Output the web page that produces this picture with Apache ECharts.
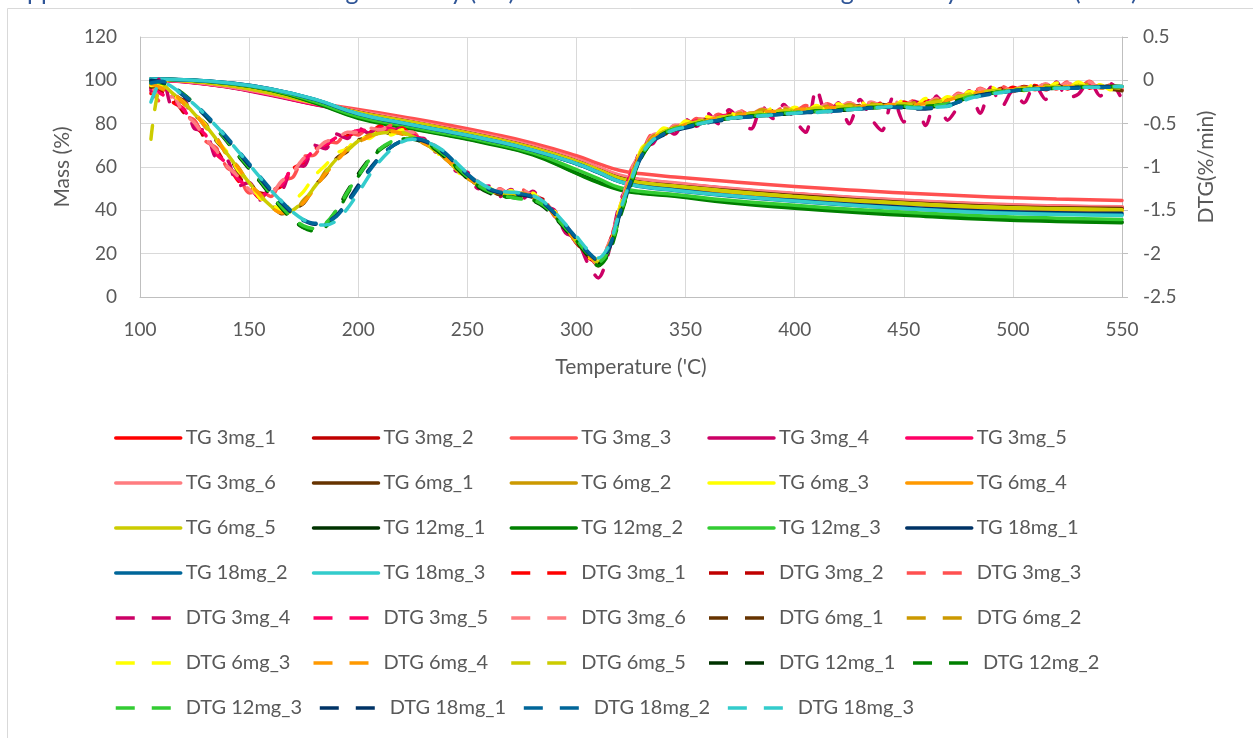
<!DOCTYPE html>
<html>
<head>
<meta charset="utf-8">
<title>TG / DTG curves</title>
<script src="https://cdn.jsdelivr.net/npm/echarts@6/dist/echarts.min.js"></script>
<style>
  html, body { margin: 0; padding: 0; background: #ffffff; }
  #chart { width: 1253px; height: 738px; }
</style>
</head>
<body>
<div id="chart"></div>
<script>
// ---- Sample names (legend order) ----
const SAMPLES = ['3mg_1', '3mg_2', '3mg_3', '3mg_4', '3mg_5', '3mg_6',
  '6mg_1', '6mg_2', '6mg_3', '6mg_4', '6mg_5',
  '12mg_1', '12mg_2', '12mg_3', '18mg_1', '18mg_2', '18mg_3'];

// ---- Axis ticks ----
const TEMP_TICKS = [100, 150, 200, 250, 300, 350, 400, 450, 500, 550];
const MASS_TICKS = [0, 20, 40, 60, 80, 100, 120];
const DTG_TICKS = [-2.5, -2, -1.5, -1, -0.5, 0, 0.5];

// ---- TG: mass (%) vs temperature ('C) ----
const TG_TEMP = [105, 120, 140, 160, 180, 200, 220, 240, 260, 280, 300, 310, 320, 330, 345, 370, 400, 430, 460, 490, 520, 550];
const TG_3MG_1 = [100.2, 99.5, 97.0, 93.3, 89.0, 85.4, 81.8, 78.0, 74.0, 69.3, 63.3, 59.5, 55.9, 54.0, 52.4, 50.0, 47.6, 45.6, 44.0, 42.7, 41.9, 41.5];
const TG_3MG_2 = [100.2, 99.6, 97.2, 93.5, 89.3, 85.6, 82.0, 78.2, 74.2, 69.5, 63.5, 59.7, 55.8, 53.8, 52.2, 49.8, 47.4, 45.4, 43.8, 42.5, 41.7, 41.2];
const TG_3MG_3 = [100.3, 99.6, 97.3, 93.8, 89.8, 86.6, 83.2, 79.6, 75.6, 71.0, 65.2, 61.6, 58.4, 56.9, 55.4, 53.3, 51.0, 49.1, 47.5, 46.2, 45.2, 44.5];
const TG_3MG_4 = [100.1, 99.4, 96.9, 93.1, 88.8, 85.1, 81.5, 77.7, 73.7, 69.0, 63.0, 59.2, 55.5, 53.6, 52.0, 49.6, 47.2, 45.2, 43.6, 42.3, 41.5, 41.0];
const TG_3MG_5 = [100.2, 99.5, 97.1, 93.4, 89.1, 85.5, 81.9, 78.1, 74.1, 69.4, 63.4, 59.6, 55.8, 53.9, 52.3, 49.9, 47.5, 45.5, 43.9, 42.6, 41.8, 41.3];
const TG_3MG_6 = [100.3, 99.6, 97.2, 93.6, 89.4, 85.8, 82.2, 78.4, 74.4, 69.7, 63.7, 59.9, 56.2, 54.3, 52.7, 50.2, 47.8, 45.8, 44.2, 42.9, 42.0, 41.6];
const TG_6MG_1 = [100.4, 99.9, 97.8, 94.3, 89.9, 85.3, 81.6, 77.8, 73.7, 68.9, 62.7, 58.8, 54.9, 52.9, 51.4, 49.1, 46.8, 44.8, 43.2, 41.9, 41.2, 40.8];
const TG_6MG_2 = [100.4, 99.9, 97.8, 94.2, 89.8, 85.1, 81.5, 77.7, 73.6, 68.8, 62.6, 58.7, 54.7, 52.7, 51.2, 48.8, 46.4, 44.4, 42.8, 41.5, 40.8, 40.3];
const TG_6MG_3 = [100.4, 99.9, 97.8, 94.2, 89.7, 85.0, 81.4, 77.6, 73.5, 68.7, 62.5, 58.6, 54.5, 52.6, 51.0, 48.6, 46.2, 44.2, 42.6, 41.3, 40.5, 40.0];
const TG_6MG_4 = [100.4, 99.9, 97.9, 94.3, 89.8, 85.0, 81.3, 77.5, 73.4, 68.6, 62.4, 58.5, 54.3, 52.4, 50.8, 48.4, 46.0, 44.0, 42.4, 41.1, 40.2, 39.7];
const TG_6MG_5 = [100.4, 99.9, 97.8, 94.2, 89.7, 85.1, 81.4, 77.6, 73.5, 68.7, 62.5, 58.6, 54.6, 52.6, 51.1, 48.7, 46.3, 44.3, 42.7, 41.4, 40.7, 40.2];
const TG_12MG_1 = [100.6, 100.2, 98.6, 95.5, 89.8, 82.8, 78.7, 75.0, 70.9, 65.9, 57.3, 53.1, 49.7, 48.1, 46.8, 44.0, 41.5, 39.3, 37.6, 36.2, 35.2, 34.6];
const TG_12MG_2 = [100.6, 100.2, 98.6, 95.4, 89.6, 82.5, 78.4, 74.7, 70.6, 65.6, 57.0, 52.8, 49.4, 47.8, 46.5, 43.5, 41.0, 38.9, 37.2, 35.8, 34.9, 34.3];
const TG_12MG_3 = [100.6, 100.2, 98.7, 95.6, 90.2, 83.3, 79.2, 75.4, 71.4, 66.5, 58.8, 54.6, 50.4, 48.7, 47.3, 44.6, 42.3, 40.3, 38.6, 37.3, 36.4, 35.8];
const TG_18MG_1 = [100.6, 100.3, 98.9, 96.0, 91.2, 84.4, 80.3, 76.5, 72.5, 67.7, 61.5, 57.5, 53.2, 51.1, 49.5, 46.9, 44.6, 42.6, 40.9, 39.6, 38.9, 38.6];
const TG_18MG_2 = [100.6, 100.3, 98.9, 96.0, 91.2, 84.5, 80.3, 76.5, 72.5, 67.7, 61.5, 57.4, 53.1, 50.9, 49.2, 46.6, 44.2, 42.1, 40.4, 39.0, 38.3, 38.0];
const TG_18MG_3 = [100.6, 100.3, 98.9, 96.0, 91.3, 84.6, 80.4, 76.6, 72.6, 67.8, 61.6, 57.6, 53.2, 51.0, 49.3, 46.8, 44.3, 42.1, 40.3, 38.9, 38.1, 37.6];

// ---- DTG: rate of mass change (%/min) vs temperature ('C) ----
const DTG_TEMP = [105, 110, 115, 120, 125, 130, 135, 140, 145, 150,
  155, 160, 165, 170, 175, 180, 185, 190, 195, 200,
  205, 210, 215, 220, 225, 230, 235, 240, 245, 250,
  255, 260, 265, 270, 275, 280, 285, 290, 295, 300,
  305, 310, 315, 320, 325, 330, 335, 340, 345, 350,
  355, 360, 365, 370, 375, 380, 385, 390, 395, 400,
  405, 410, 415, 420, 425, 430, 435, 440, 445, 450,
  455, 460, 465, 470, 475, 480, 485, 490, 495, 500,
  505, 510, 515, 520, 525, 530, 535, 540, 545, 550];

const DTG_3MG_1 = [-0.15, -0.10, -0.25, -0.33, -0.53, -0.64, -0.85, -0.96, -1.16, -1.22,
  -1.36, -1.27, -1.22, -1.02, -0.95, -0.79, -0.76, -0.65, -0.65, -0.57,
  -0.60, -0.53, -0.58, -0.55, -0.65, -0.68, -0.80, -0.86, -1.02, -1.08,
  -1.22, -1.24, -1.31, -1.28, -1.33, -1.30, -1.42, -1.52, -1.72, -1.84,
  -2.04, -2.10, -1.92, -1.44, -1.10, -0.78, -0.68, -0.57, -0.58, -0.49,
  -0.48, -0.44, -0.43, -0.38, -0.41, -0.35, -0.39, -0.33, -0.37, -0.32,
  -0.35, -0.30, -0.34, -0.28, -0.33, -0.27, -0.31, -0.26, -0.30, -0.25,
  -0.29, -0.23, -0.26, -0.20, -0.21, -0.14, -0.16, -0.10, -0.14, -0.08,
  -0.12, -0.06, -0.11, -0.05, -0.10, -0.04, -0.09, -0.06, -0.10, -0.11];
const DTG_3MG_2 = [-0.05, -0.14, -0.20, -0.37, -0.47, -0.68, -0.80, -1.00, -1.10, -1.27,
  -1.30, -1.32, -1.18, -1.09, -0.91, -0.84, -0.72, -0.70, -0.61, -0.62,
  -0.56, -0.58, -0.54, -0.60, -0.61, -0.72, -0.76, -0.90, -0.98, -1.12,
  -1.18, -1.28, -1.27, -1.32, -1.28, -1.34, -1.38, -1.56, -1.68, -1.88,
  -2.00, -2.14, -1.88, -1.48, -1.06, -0.82, -0.64, -0.62, -0.54, -0.53,
  -0.46, -0.47, -0.41, -0.43, -0.37, -0.40, -0.35, -0.37, -0.34, -0.35,
  -0.31, -0.34, -0.29, -0.32, -0.28, -0.31, -0.27, -0.30, -0.26, -0.28,
  -0.25, -0.27, -0.22, -0.24, -0.17, -0.18, -0.11, -0.14, -0.09, -0.12,
  -0.07, -0.10, -0.05, -0.09, -0.04, -0.08, -0.03, -0.09, -0.06, -0.10];
const DTG_3MG_3 = [-0.10, -0.26, -0.18, -0.40, -0.46, -0.70, -0.78, -1.01, -1.08, -1.30,
  -1.28, -1.34, -1.15, -1.12, -0.88, -0.86, -0.70, -0.72, -0.59, -0.63,
  -0.54, -0.59, -0.52, -0.61, -0.60, -0.73, -0.75, -0.91, -0.97, -1.13,
  -1.17, -1.29, -1.25, -1.34, -1.26, -1.35, -1.37, -1.57, -1.66, -1.89,
  -1.98, -2.15, -1.86, -1.50, -1.03, -0.84, -0.62, -0.63, -0.52, -0.54,
  -0.44, -0.48, -0.39, -0.44, -0.35, -0.41, -0.33, -0.38, -0.31, -0.36,
  -0.29, -0.35, -0.27, -0.33, -0.26, -0.32, -0.25, -0.31, -0.24, -0.29,
  -0.23, -0.28, -0.20, -0.25, -0.15, -0.19, -0.09, -0.15, -0.07, -0.13,
  -0.05, -0.11, -0.03, -0.10, -0.02, -0.09, -0.01, -0.10, -0.05, -0.11];
const DTG_3MG_4 = [-0.12, 0.04, -0.31, -0.22, -0.56, -0.58, -0.90, -0.92, -1.22, -1.18,
  -1.38, -1.24, -1.25, -0.98, -0.99, -0.75, -0.79, -0.62, -0.67, -0.55,
  -0.61, -0.52, -0.59, -0.55, -0.66, -0.67, -0.82, -0.85, -1.05, -1.06,
  -1.25, -1.22, -1.34, -1.26, -1.37, -1.28, -1.45, -1.50, -1.76, -1.82,
  -2.10, -2.28, -1.96, -1.40, -1.14, -0.76, -0.73, -0.54, -0.62, -0.45,
  -0.53, -0.38, -0.50, -0.34, -0.47, -0.56, -0.30, -0.44, -0.28, -0.46,
  -0.60, -0.10, -0.42, -0.26, -0.50, -0.22, -0.44, -0.58, -0.20, -0.48,
  -0.24, -0.52, -0.18, -0.46, -0.30, -0.12, -0.38, -0.08, -0.30, -0.12,
  -0.26, -0.05, -0.22, -0.02, -0.20, -0.16, 0.00, -0.18, -0.04, -0.22];
const DTG_3MG_5 = [-0.09, -0.16, -0.23, -0.34, -0.51, -0.63, -0.84, -0.97, -1.14, -1.24,
  -1.34, -1.26, -1.20, -1.00, -0.93, -0.80, -0.74, -0.66, -0.63, -0.58,
  -0.58, -0.55, -0.56, -0.57, -0.63, -0.69, -0.78, -0.87, -1.00, -1.09,
  -1.20, -1.25, -1.30, -1.29, -1.31, -1.31, -1.41, -1.53, -1.70, -1.85,
  -2.03, -2.12, -1.90, -1.46, -1.08, -0.80, -0.66, -0.59, -0.56, -0.51,
  -0.47, -0.46, -0.42, -0.40, -0.39, -0.38, -0.36, -0.36, -0.35, -0.34,
  -0.33, -0.32, -0.32, -0.30, -0.30, -0.29, -0.28, -0.28, -0.27, -0.27,
  -0.27, -0.25, -0.24, -0.21, -0.18, -0.15, -0.13, -0.12, -0.11, -0.10,
  -0.09, -0.09, -0.08, -0.07, -0.06, -0.06, -0.06, -0.07, -0.08, -0.09];
const DTG_3MG_6 = [-0.03, -0.22, -0.19, -0.38, -0.49, -0.67, -0.81, -0.99, -1.11, -1.26,
  -1.31, -1.30, -1.16, -1.06, -0.90, -0.82, -0.71, -0.68, -0.60, -0.60,
  -0.55, -0.57, -0.53, -0.59, -0.60, -0.71, -0.75, -0.89, -0.97, -1.11,
  -1.17, -1.27, -1.26, -1.32, -1.27, -1.33, -1.37, -1.55, -1.67, -1.87,
  -1.99, -2.13, -1.87, -1.47, -1.04, -0.81, -0.63, -0.60, -0.52, -0.51,
  -0.44, -0.45, -0.40, -0.42, -0.36, -0.39, -0.33, -0.36, -0.31, -0.34,
  -0.29, -0.33, -0.27, -0.31, -0.26, -0.30, -0.25, -0.29, -0.24, -0.28,
  -0.23, -0.27, -0.21, -0.24, -0.16, -0.18, -0.10, -0.14, -0.08, -0.12,
  -0.06, -0.10, -0.04, -0.09, -0.03, -0.08, -0.02, -0.09, -0.05, -0.10];
const DTG_6MG_1 = [-0.08, -0.05, -0.16, -0.24, -0.40, -0.50, -0.70, -0.84, -1.05, -1.16,
  -1.35, -1.43, -1.54, -1.48, -1.42, -1.22, -1.09, -0.90, -0.82, -0.69,
  -0.66, -0.60, -0.61, -0.60, -0.66, -0.71, -0.82, -0.89, -1.04, -1.11,
  -1.22, -1.26, -1.32, -1.29, -1.33, -1.32, -1.43, -1.53, -1.72, -1.85,
  -2.02, -2.09, -1.93, -1.48, -1.13, -0.80, -0.68, -0.58, -0.56, -0.50,
  -0.49, -0.45, -0.44, -0.40, -0.41, -0.37, -0.38, -0.35, -0.37, -0.34,
  -0.35, -0.32, -0.34, -0.30, -0.33, -0.29, -0.31, -0.28, -0.29, -0.27,
  -0.29, -0.25, -0.26, -0.22, -0.20, -0.16, -0.14, -0.11, -0.13, -0.09,
  -0.11, -0.07, -0.10, -0.06, -0.09, -0.05, -0.08, -0.06, -0.10, -0.12];
const DTG_6MG_2 = [-0.03, -0.10, -0.14, -0.27, -0.37, -0.54, -0.66, -0.87, -1.00, -1.20,
  -1.31, -1.47, -1.50, -1.52, -1.38, -1.26, -1.05, -0.93, -0.78, -0.72,
  -0.63, -0.62, -0.58, -0.62, -0.64, -0.73, -0.79, -0.91, -1.01, -1.13,
  -1.20, -1.28, -1.29, -1.33, -1.30, -1.35, -1.40, -1.56, -1.68, -1.88,
  -1.98, -2.12, -1.90, -1.52, -1.10, -0.84, -0.65, -0.61, -0.54, -0.52,
  -0.46, -0.47, -0.41, -0.42, -0.38, -0.39, -0.34, -0.37, -0.33, -0.35,
  -0.31, -0.34, -0.30, -0.32, -0.28, -0.31, -0.27, -0.30, -0.26, -0.29,
  -0.26, -0.28, -0.23, -0.24, -0.18, -0.18, -0.12, -0.14, -0.10, -0.12,
  -0.08, -0.10, -0.06, -0.09, -0.05, -0.08, -0.04, -0.09, -0.07, -0.10];
const DTG_6MG_3 = [-0.06, -0.06, -0.17, -0.25, -0.39, -0.51, -0.69, -0.83, -1.04, -1.17,
  -1.36, -1.42, -1.50, -1.40, -1.28, -1.10, -0.98, -0.84, -0.79, -0.66,
  -0.67, -0.58, -0.63, -0.57, -0.68, -0.69, -0.84, -0.87, -1.06, -1.09,
  -1.24, -1.24, -1.35, -1.27, -1.36, -1.30, -1.46, -1.51, -1.74, -1.83,
  -2.04, -2.06, -1.95, -1.45, -1.15, -0.78, -0.69, -0.55, -0.58, -0.47,
  -0.50, -0.42, -0.46, -0.37, -0.43, -0.34, -0.40, -0.32, -0.38, -0.31,
  -0.36, -0.29, -0.35, -0.27, -0.33, -0.25, -0.32, -0.24, -0.30, -0.23,
  -0.30, -0.21, -0.27, -0.19, -0.22, -0.13, -0.16, -0.08, -0.14, -0.06,
  -0.12, -0.04, -0.10, -0.03, -0.09, -0.02, -0.08, -0.05, -0.11, -0.07];
const DTG_6MG_4 = [-0.04, -0.09, -0.15, -0.26, -0.38, -0.53, -0.67, -0.86, -1.01, -1.19,
  -1.32, -1.46, -1.53, -1.51, -1.41, -1.25, -1.08, -0.94, -0.80, -0.72,
  -0.65, -0.61, -0.59, -0.61, -0.65, -0.72, -0.80, -0.90, -1.02, -1.12,
  -1.21, -1.27, -1.30, -1.32, -1.31, -1.34, -1.41, -1.55, -1.70, -1.86,
  -2.00, -2.11, -1.92, -1.50, -1.12, -0.82, -0.67, -0.60, -0.56, -0.51,
  -0.48, -0.46, -0.43, -0.41, -0.40, -0.38, -0.36, -0.36, -0.35, -0.34,
  -0.33, -0.33, -0.32, -0.31, -0.31, -0.30, -0.29, -0.29, -0.28, -0.28,
  -0.28, -0.27, -0.25, -0.23, -0.19, -0.17, -0.14, -0.13, -0.12, -0.11,
  -0.10, -0.09, -0.08, -0.08, -0.07, -0.07, -0.07, -0.07, -0.08, -0.09];
const DTG_6MG_5 = [-0.68, -0.04, -0.15, -0.25, -0.39, -0.52, -0.68, -0.85, -1.02, -1.18,
  -1.33, -1.45, -1.55, -1.50, -1.39, -1.23, -1.06, -0.91, -0.81, -0.70,
  -0.64, -0.61, -0.60, -0.60, -0.65, -0.71, -0.81, -0.89, -1.03, -1.12,
  -1.21, -1.27, -1.31, -1.31, -1.32, -1.33, -1.42, -1.54, -1.71, -1.86,
  -2.01, -2.10, -1.93, -1.49, -1.12, -0.81, -0.67, -0.59, -0.55, -0.51,
  -0.48, -0.45, -0.43, -0.41, -0.40, -0.38, -0.37, -0.36, -0.35, -0.34,
  -0.34, -0.32, -0.32, -0.31, -0.30, -0.30, -0.29, -0.28, -0.28, -0.27,
  -0.28, -0.26, -0.25, -0.22, -0.19, -0.16, -0.14, -0.12, -0.12, -0.10,
  -0.10, -0.08, -0.08, -0.07, -0.07, -0.06, -0.07, -0.07, -0.08, -0.09];
const DTG_12MG_1 = [-0.02, -0.02, -0.08, -0.17, -0.28, -0.41, -0.56, -0.71, -0.87, -1.02,
  -1.17, -1.33, -1.48, -1.61, -1.70, -1.72, -1.66, -1.50, -1.28, -1.08,
  -0.91, -0.79, -0.72, -0.68, -0.68, -0.72, -0.79, -0.89, -1.01, -1.13,
  -1.23, -1.30, -1.34, -1.35, -1.36, -1.39, -1.46, -1.58, -1.72, -1.86,
  -2.01, -2.12, -1.96, -1.56, -1.18, -0.87, -0.70, -0.62, -0.57, -0.54,
  -0.51, -0.48, -0.46, -0.44, -0.43, -0.42, -0.41, -0.40, -0.39, -0.38,
  -0.37, -0.36, -0.36, -0.35, -0.34, -0.33, -0.32, -0.31, -0.31, -0.31,
  -0.32, -0.31, -0.30, -0.28, -0.24, -0.20, -0.17, -0.15, -0.13, -0.12,
  -0.11, -0.10, -0.10, -0.09, -0.09, -0.08, -0.08, -0.08, -0.07, -0.07];
const DTG_12MG_2 = [-0.01, -0.03, -0.07, -0.16, -0.27, -0.40, -0.55, -0.70, -0.86, -1.01,
  -1.16, -1.32, -1.47, -1.60, -1.70, -1.74, -1.69, -1.54, -1.31, -1.11,
  -0.93, -0.80, -0.72, -0.68, -0.67, -0.71, -0.78, -0.88, -1.00, -1.12,
  -1.22, -1.29, -1.33, -1.35, -1.36, -1.38, -1.45, -1.57, -1.71, -1.85,
  -2.00, -2.14, -1.99, -1.58, -1.20, -0.88, -0.70, -0.61, -0.56, -0.53,
  -0.50, -0.47, -0.46, -0.43, -0.42, -0.41, -0.40, -0.39, -0.38, -0.37,
  -0.37, -0.35, -0.35, -0.34, -0.33, -0.32, -0.31, -0.31, -0.30, -0.30,
  -0.31, -0.30, -0.29, -0.27, -0.23, -0.20, -0.17, -0.15, -0.13, -0.12,
  -0.11, -0.10, -0.09, -0.09, -0.08, -0.08, -0.08, -0.07, -0.07, -0.07];
const DTG_12MG_3 = [-0.03, -0.02, -0.07, -0.17, -0.28, -0.41, -0.55, -0.70, -0.85, -1.00,
  -1.15, -1.31, -1.46, -1.59, -1.68, -1.71, -1.65, -1.50, -1.29, -1.10,
  -0.92, -0.79, -0.71, -0.67, -0.67, -0.70, -0.77, -0.87, -0.99, -1.11,
  -1.21, -1.28, -1.33, -1.35, -1.37, -1.38, -1.44, -1.56, -1.70, -1.84,
  -1.99, -2.10, -1.95, -1.55, -1.17, -0.86, -0.69, -0.61, -0.56, -0.53,
  -0.50, -0.48, -0.45, -0.44, -0.42, -0.41, -0.40, -0.39, -0.38, -0.37,
  -0.36, -0.36, -0.35, -0.34, -0.33, -0.32, -0.32, -0.31, -0.30, -0.30,
  -0.31, -0.30, -0.29, -0.27, -0.23, -0.19, -0.17, -0.15, -0.13, -0.12,
  -0.11, -0.10, -0.10, -0.09, -0.09, -0.08, -0.08, -0.08, -0.07, -0.07];
const DTG_18MG_1 = [0.00, -0.02, -0.08, -0.18, -0.29, -0.41, -0.54, -0.68, -0.83, -0.98,
  -1.13, -1.28, -1.42, -1.54, -1.62, -1.66, -1.64, -1.56, -1.40, -1.21,
  -1.03, -0.88, -0.77, -0.70, -0.68, -0.70, -0.76, -0.85, -0.97, -1.09,
  -1.19, -1.26, -1.30, -1.31, -1.32, -1.35, -1.42, -1.54, -1.68, -1.83,
  -1.98, -2.08, -1.94, -1.54, -1.17, -0.87, -0.70, -0.63, -0.58, -0.55,
  -0.52, -0.49, -0.47, -0.45, -0.43, -0.42, -0.41, -0.40, -0.39, -0.38,
  -0.37, -0.37, -0.36, -0.35, -0.34, -0.33, -0.32, -0.32, -0.31, -0.32,
  -0.33, -0.33, -0.32, -0.30, -0.25, -0.20, -0.17, -0.15, -0.14, -0.12,
  -0.11, -0.10, -0.10, -0.09, -0.09, -0.08, -0.08, -0.07, -0.07, -0.07];
const DTG_18MG_2 = [-0.03, -0.01, -0.07, -0.17, -0.27, -0.39, -0.52, -0.66, -0.81, -0.96,
  -1.11, -1.26, -1.40, -1.52, -1.61, -1.65, -1.64, -1.57, -1.42, -1.24,
  -1.05, -0.89, -0.77, -0.70, -0.67, -0.69, -0.75, -0.84, -0.96, -1.08,
  -1.18, -1.25, -1.29, -1.30, -1.31, -1.34, -1.41, -1.53, -1.67, -1.82,
  -1.97, -2.07, -1.92, -1.52, -1.16, -0.86, -0.70, -0.62, -0.57, -0.54,
  -0.51, -0.48, -0.46, -0.44, -0.43, -0.42, -0.41, -0.40, -0.39, -0.38,
  -0.37, -0.36, -0.36, -0.35, -0.34, -0.33, -0.32, -0.31, -0.31, -0.31,
  -0.32, -0.32, -0.31, -0.29, -0.25, -0.21, -0.18, -0.16, -0.14, -0.12,
  -0.11, -0.10, -0.10, -0.09, -0.09, -0.09, -0.08, -0.08, -0.08, -0.07];
const DTG_18MG_3 = [-0.25, -0.02, -0.08, -0.18, -0.28, -0.40, -0.53, -0.67, -0.82, -0.97,
  -1.12, -1.27, -1.40, -1.52, -1.61, -1.66, -1.67, -1.62, -1.48, -1.30,
  -1.10, -0.93, -0.80, -0.71, -0.68, -0.70, -0.75, -0.83, -0.95, -1.07,
  -1.17, -1.24, -1.28, -1.29, -1.30, -1.33, -1.40, -1.52, -1.66, -1.80,
  -1.95, -2.05, -1.90, -1.50, -1.15, -0.85, -0.69, -0.62, -0.57, -0.54,
  -0.51, -0.48, -0.46, -0.44, -0.43, -0.42, -0.41, -0.40, -0.39, -0.38,
  -0.37, -0.37, -0.36, -0.35, -0.34, -0.33, -0.32, -0.31, -0.30, -0.31,
  -0.32, -0.32, -0.31, -0.30, -0.26, -0.21, -0.18, -0.16, -0.14, -0.12,
  -0.11, -0.10, -0.10, -0.09, -0.09, -0.08, -0.08, -0.08, -0.07, -0.07];

const TG_VALUES = [TG_3MG_1, TG_3MG_2, TG_3MG_3, TG_3MG_4, TG_3MG_5, TG_3MG_6,
  TG_6MG_1, TG_6MG_2, TG_6MG_3, TG_6MG_4, TG_6MG_5,
  TG_12MG_1, TG_12MG_2, TG_12MG_3, TG_18MG_1, TG_18MG_2, TG_18MG_3];
const DTG_VALUES = [DTG_3MG_1, DTG_3MG_2, DTG_3MG_3, DTG_3MG_4, DTG_3MG_5, DTG_3MG_6,
  DTG_6MG_1, DTG_6MG_2, DTG_6MG_3, DTG_6MG_4, DTG_6MG_5,
  DTG_12MG_1, DTG_12MG_2, DTG_12MG_3, DTG_18MG_1, DTG_18MG_2, DTG_18MG_3];

// ---- Styling ----
const COLORS = ['#FF0000', '#C00000', '#FF5050', '#CC0066', '#FF0066', '#FF7C80',
  '#663300', '#CC9900', '#FFFF00', '#FF9900', '#CCCC00',
  '#003300', '#008000', '#33CC33', '#003366', '#006699', '#33CCCC'];
const FONT = 'Lato, "Open Sans", "Noto Sans", sans-serif';
const TEXT_GREY = '#595959';
const GRID_GREY = '#D9D9D9';
const AXIS_GREY = '#BFBFBF';
const LINE_W = 3.5;
const DASH = [14, 16];
const LEGEND_DASH = [19, 17];

const pair = (xs, ys) => xs.map((x, i) => [x, ys[i]]);

const series = [];
SAMPLES.forEach((s, i) => {
  series.push({
    name: 'TG ' + s, type: 'line', yAxisIndex: 0,
    data: pair(TG_TEMP, TG_VALUES[i]),
    smooth: 0.5, symbol: 'none', showSymbol: false,
    lineStyle: { color: COLORS[i], width: LINE_W, cap: 'round', join: 'round' },
    itemStyle: { color: COLORS[i] },
    emphasis: { disabled: true }, z: 2
  });
});
SAMPLES.forEach((s, i) => {
  series.push({
    name: 'DTG ' + s, type: 'line', yAxisIndex: 1,
    data: pair(DTG_TEMP, DTG_VALUES[i]),
    smooth: 0.3, symbol: 'none', showSymbol: false,
    lineStyle: { color: COLORS[i], width: LINE_W, type: DASH, dashOffset: 0, cap: 'round', join: 'round' },
    itemStyle: { color: COLORS[i] },
    emphasis: { disabled: true }, z: 3
  });
});

// legend: 5 entries per row, 7 rows; icon is the line sample only
const legendItems = series.map(o => o.name.indexOf('DTG') === 0
  ? { name: o.name, lineStyle: { type: LEGEND_DASH, dashOffset: 0, width: LINE_W, cap: 'butt' } }
  : { name: o.name });
const ROW_CENTERS = [438, 483, 528, 573, 618, 663, 708];
const legends = ROW_CENTERS.map((cy, r) => ({
  data: legendItems.slice(r * 5, r * 5 + 5),
  left: 114, top: cy - 10, orient: 'horizontal',
  padding: 0, itemWidth: 65, itemHeight: 20, itemGap: 16,
  selectedMode: false,
  itemStyle: { opacity: 0 },
  lineStyle: { width: LINE_W, cap: 'round' },
  textStyle: { fontFamily: FONT, fontSize: 20, color: TEXT_GREY, width: 110, lineHeight: 20 }
}));

const chart = echarts.init(document.getElementById('chart'), null, { renderer: 'canvas' });
chart.setOption({
  animation: false,
  backgroundColor: '#ffffff',
  graphic: [
    { type: 'rect', silent: true, z: -10,
      shape: { x: 7.5, y: 8.5, width: 1300, height: 800 },
      style: { fill: '#ffffff', stroke: GRID_GREY, lineWidth: 1 } },
    { type: 'text', silent: true, x: 10, y: 4,
      style: { text: 'Appendix D. Results of thermogravimetry (TG) curves and derivative thermogravimetry mass loss (DTG)',
        fontFamily: FONT, fontSize: 25, fill: '#2F5597', verticalAlign: 'bottom', align: 'left' } }
  ],
  legend: legends,
  grid: { left: 140, right: 131, top: 37, bottom: 441, containLabel: false },
  xAxis: {
    type: 'value', min: TEMP_TICKS[0], max: TEMP_TICKS[TEMP_TICKS.length - 1], interval: 50,
    name: "Temperature ('C)", nameLocation: 'middle', nameGap: 60,
    nameTextStyle: { fontFamily: FONT, fontSize: 21, color: TEXT_GREY },
    axisLine: { show: true, lineStyle: { color: AXIS_GREY, width: 1 } },
    axisTick: { show: false },
    axisLabel: { fontFamily: FONT, fontSize: 19, color: TEXT_GREY, margin: 23 },
    splitLine: { show: true, lineStyle: { color: GRID_GREY, width: 1 } }
  },
  yAxis: [
    {
      type: 'value', position: 'left', min: MASS_TICKS[0], max: MASS_TICKS[MASS_TICKS.length - 1], interval: 20,
      name: 'Mass (%)', nameLocation: 'middle', nameGap: 66, nameRotate: 90,
      nameTextStyle: { fontFamily: FONT, fontSize: 21, color: TEXT_GREY },
      axisLine: { show: true, lineStyle: { color: AXIS_GREY, width: 1 } },
      axisTick: { show: false },
      axisLabel: { fontFamily: FONT, fontSize: 19, color: TEXT_GREY, margin: 23 },
      splitLine: { show: true, lineStyle: { color: GRID_GREY, width: 1 } }
    },
    {
      type: 'value', position: 'right', min: DTG_TICKS[0], max: DTG_TICKS[DTG_TICKS.length - 1], interval: 0.5,
      name: 'DTG(%/min)', nameLocation: 'middle', nameGap: 74, nameRotate: 90,
      nameTextStyle: { fontFamily: FONT, fontSize: 21, color: TEXT_GREY },
      axisLine: { show: true, lineStyle: { color: AXIS_GREY, width: 1 } },
      axisTick: { show: true, length: 6, lineStyle: { color: AXIS_GREY } },
      axisLabel: { fontFamily: FONT, fontSize: 19, color: TEXT_GREY, margin: 21 },
      splitLine: { show: false }
    }
  ],
  series: series
});
</script>
</body>
</html>
